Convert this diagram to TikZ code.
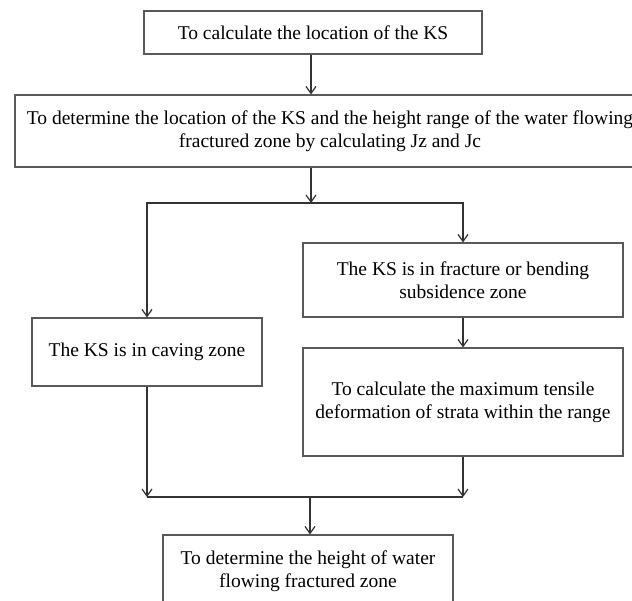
\documentclass[tikz,border=0pt]{standalone}
\usepackage{fontspec}
\setmainfont{Liberation Serif}
\usetikzlibrary{arrows.meta,positioning}

\begin{document}
\begin{tikzpicture}[x=1pt,y=-1pt,box/.style={draw=black!65,line width=1.1pt,align=center,inner sep=0pt,font=\fontsize{19.5}{23}\selectfont},arr/.style={-{Straight Barb[length=7pt,width=10pt]},line width=1.2pt,draw=black!80},link/.style={line width=1.2pt,draw=black!80}]
\useasboundingbox (0,0) rectangle (632,600);
\node[box,minimum width=338pt,minimum height=43pt] (top) at (313,32.5) {To calculate the location of the KS};
\node[box,minimum width=630pt,minimum height=72pt] (wide) at (330,131) {To determine the location of the KS and the height range of the water flowing\\fractured zone by calculating Jz and Jc};
\node[box,minimum width=320pt,minimum height=74pt] (fract) at (463,280) {The KS is in fracture or bending\\subsidence zone};
\node[box,minimum width=230pt,minimum height=68pt] (caving) at (147,352) {The KS is in caving zone};
\node[box,minimum width=320pt,minimum height=108pt] (tensile) at (463,402) {To calculate the maximum tensile\\deformation of strata within the range};
\node[box,minimum width=290pt,minimum height=73pt] (height) at (308,571.5) {To determine the height of water\\flowing fractured zone};
\coordinate (split) at (311,203);
\coordinate (merge) at (310,497);
\draw[arr] (top.south -| split) -- (wide.north -| split);
\draw[arr] (wide.south -| split) -- (split);
\draw[arr] (split) -| (caving.north);
\draw[arr] (split) -| (fract.north);
\draw[arr] (fract) -- (tensile);
\draw[arr] (caving.south) -- (caving.south |- merge);
\draw[arr] (tensile.south) -- (tensile.south |- merge);
\draw[link] (caving.south |- merge) -- (tensile.south |- merge);
\draw[arr] (merge) -- (height.north -| merge);
\end{tikzpicture}
\end{document}
